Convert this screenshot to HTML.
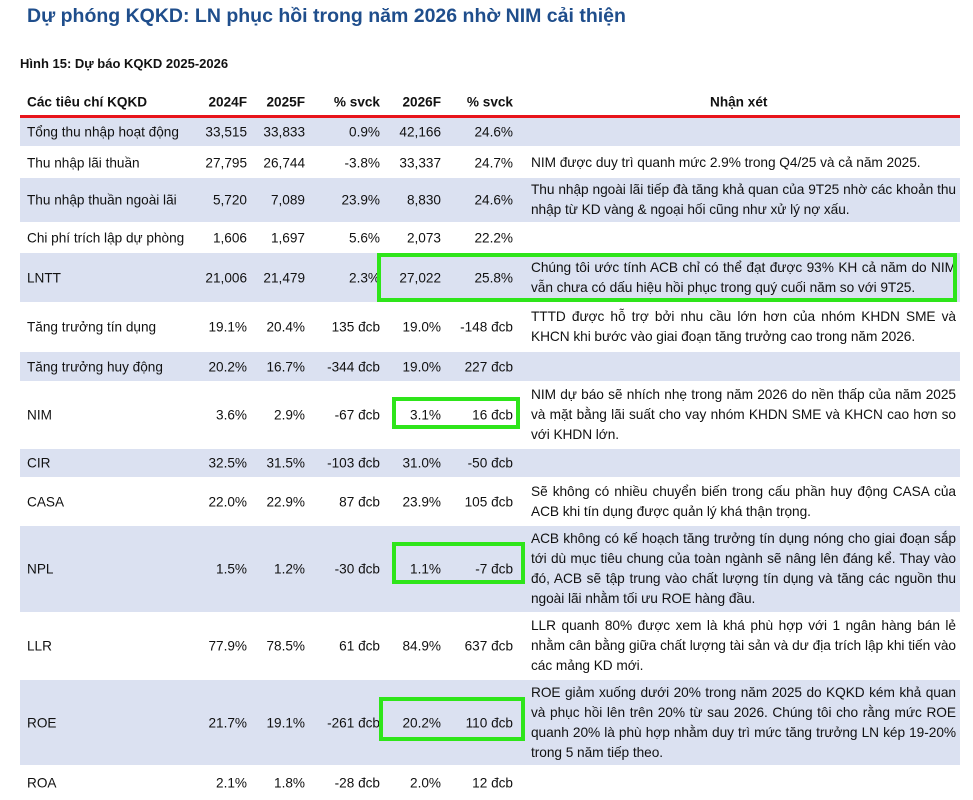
<!DOCTYPE html>
<html><head><meta charset="utf-8"><style>
body{margin:0;width:973px;height:797px;background:#fff;font-family:"Liberation Sans",Arial,sans-serif;position:relative;overflow:hidden;color:#111}
.t{position:absolute;left:27px;top:5px;font-size:19.5px;font-weight:bold;color:#1f4e8c;white-space:nowrap}
.s{position:absolute;left:20px;top:56px;font-size:13px;font-weight:bold;white-space:nowrap}
.r{position:absolute;left:20px;width:940px;font-size:13.6px}
.sh{background:#dbe1f1}
.c{position:absolute;top:50%;transform:translateY(-50%);white-space:nowrap}
.n{text-align:right}
.cm{position:absolute;left:511px;width:425px;top:50%;transform:translateY(-50%);line-height:20px;text-align:justify;font-size:13.7px;letter-spacing:-0.05px}
.h{font-weight:bold}
.g{position:absolute;border:4px solid #2ee51a;box-sizing:border-box}
</style></head><body>
<div class="t">Dự phóng KQKD: LN phục hồi trong năm 2026 nhờ NIM cải thiện</div>
<div class="s">Hình 15: Dự báo KQKD 2025-2026</div>
<div id="tbl"></div>
<div style="position:absolute;left:20px;top:115px;width:940px;height:3px;background:#e8141b"></div>
<div class="g" style="left:377px;top:253px;width:580px;height:49px"></div>
<div class="g" style="left:392px;top:397px;width:128px;height:32px"></div>
<div class="g" style="left:392px;top:542px;width:133px;height:42px"></div>
<div class="g" style="left:379px;top:697px;width:146px;height:44px"></div>
<script>
const labels=["Tổng thu nhập hoạt động","Thu nhập lãi thuần","Thu nhập thuần ngoài lãi","Chi phí trích lập dự phòng","LNTT","Tăng trưởng tín dụng","Tăng trưởng huy động","NIM","CIR","CASA","NPL","LLR","ROE","ROA"];
const v2024=["33,515","27,795","5,720","1,606","21,006","19.1%","20.2%","3.6%","32.5%","22.0%","1.5%","77.9%","21.7%","2.1%"];
const v2025=["33,833","26,744","7,089","1,697","21,479","20.4%","16.7%","2.9%","31.5%","22.9%","1.2%","78.5%","19.1%","1.8%"];
const yoy25=["0.9%","-3.8%","23.9%","5.6%","2.3%","135 đcb","-344 đcb","-67 đcb","-103 đcb","87 đcb","-30 đcb","61 đcb","-261 đcb","-28 đcb"];
const v2026=["42,166","33,337","8,830","2,073","27,022","19.0%","19.0%","3.1%","31.0%","23.9%","1.1%","84.9%","20.2%","2.0%"];
const yoy26=["24.6%","24.7%","24.6%","22.2%","25.8%","-148 đcb","227 đcb","16 đcb","-50 đcb","105 đcb","-7 đcb","637 đcb","110 đcb","12 đcb"];
const notes=["","NIM được duy trì quanh mức 2.9% trong Q4/25 và cả năm 2025.","Thu nhập ngoài lãi tiếp đà tăng khả quan của 9T25 nhờ các khoản thu nhập từ KD vàng &amp; ngoại hối cũng như xử lý nợ xấu.","","Chúng tôi ước tính ACB chỉ có thể đạt được 93% KH cả năm do NIM vẫn chưa có dấu hiệu hồi phục trong quý cuối năm so với 9T25.","TTTD được hỗ trợ bởi nhu cầu lớn hơn của nhóm KHDN SME và KHCN khi bước vào giai đoạn tăng trưởng cao trong năm 2026.","","NIM dự báo sẽ nhích nhẹ trong năm 2026 do nền thấp của năm 2025 và mặt bằng lãi suất cho vay nhóm KHDN SME và KHCN cao hơn so với KHDN lớn.","","Sẽ không có nhiều chuyển biến trong cấu phần huy động CASA của ACB khi tín dụng được quản lý khá thận trọng.","ACB không có kế hoạch tăng trưởng tín dụng nóng cho giai đoạn sắp tới dù mục tiêu chung của toàn ngành sẽ nâng lên đáng kể. Thay vào đó, ACB sẽ tập trung vào chất lượng tín dụng và tăng các nguồn thu ngoài lãi nhằm tối ưu ROE hàng đầu.","LLR quanh 80% được xem là khá phù hợp với 1 ngân hàng bán lẻ nhằm cân bằng giữa chất lượng tài sản và dư địa trích lập khi tiến vào các mảng KD mới.","ROE giảm xuống dưới 20% trong năm 2025 do KQKD kém khả quan và phục hồi lên trên 20% từ sau 2026. Chúng tôi cho rằng mức ROE quanh 20% là phù hợp nhằm duy trì mức tăng trưởng LN kép 19-20% trong 5 năm tiếp theo.",""];
const rowTops=[118,148,178,224,253,303,352,382,449,478,526,613,680,766];
const rowBottoms=[146,177,222,252,302,351,381,448,477,525,612,679,765,800];
const tbl=document.getElementById('tbl');
function cell(row,txt,left,w,cls,name){const d=document.createElement('div');d.className='c '+cls;d.style.left=left+'px';if(w){d.style.width=w+'px';}d.innerHTML=txt;


row.appendChild(d);}
const hdr=document.createElement('div');hdr.className='r h';hdr.style.top='88px';hdr.style.height='27px';


cell(hdr,'Các tiêu chí KQKD',7,0,'','header-criteria');
cell(hdr,'2024F',170,57,'n','header-2024f');
cell(hdr,'2025F',228,57,'n','header-2025f');
cell(hdr,'% svck',290,70,'n','header-yoy-2025');
cell(hdr,'2026F',360,61,'n','header-2026f');
cell(hdr,'% svck',420,73,'n','header-yoy-2026');
cell(hdr,'Nhận xét',690,0,'','header-notes');
tbl.appendChild(hdr);
labels.forEach((l,i)=>{const r=document.createElement('div');r.className='r'+(i%2==0?' sh':'');r.style.top=rowTops[i]+'px';r.style.height=(rowBottoms[i]-rowTops[i])+'px';


cell(r,l,7,0,'','row-label');
cell(r,v2024[i],170,57,'n','value-2024f');
cell(r,v2025[i],228,57,'n','value-2025f');
cell(r,yoy25[i],290,70,'n','value-yoy-2025');
cell(r,v2026[i],360,61,'n','value-2026f');
cell(r,yoy26[i],420,73,'n','value-yoy-2026');
if(notes[i]){const d=document.createElement('div');d.className='cm';d.innerHTML=notes[i];


r.appendChild(d);}
tbl.appendChild(r);});
</script>
</body></html>
